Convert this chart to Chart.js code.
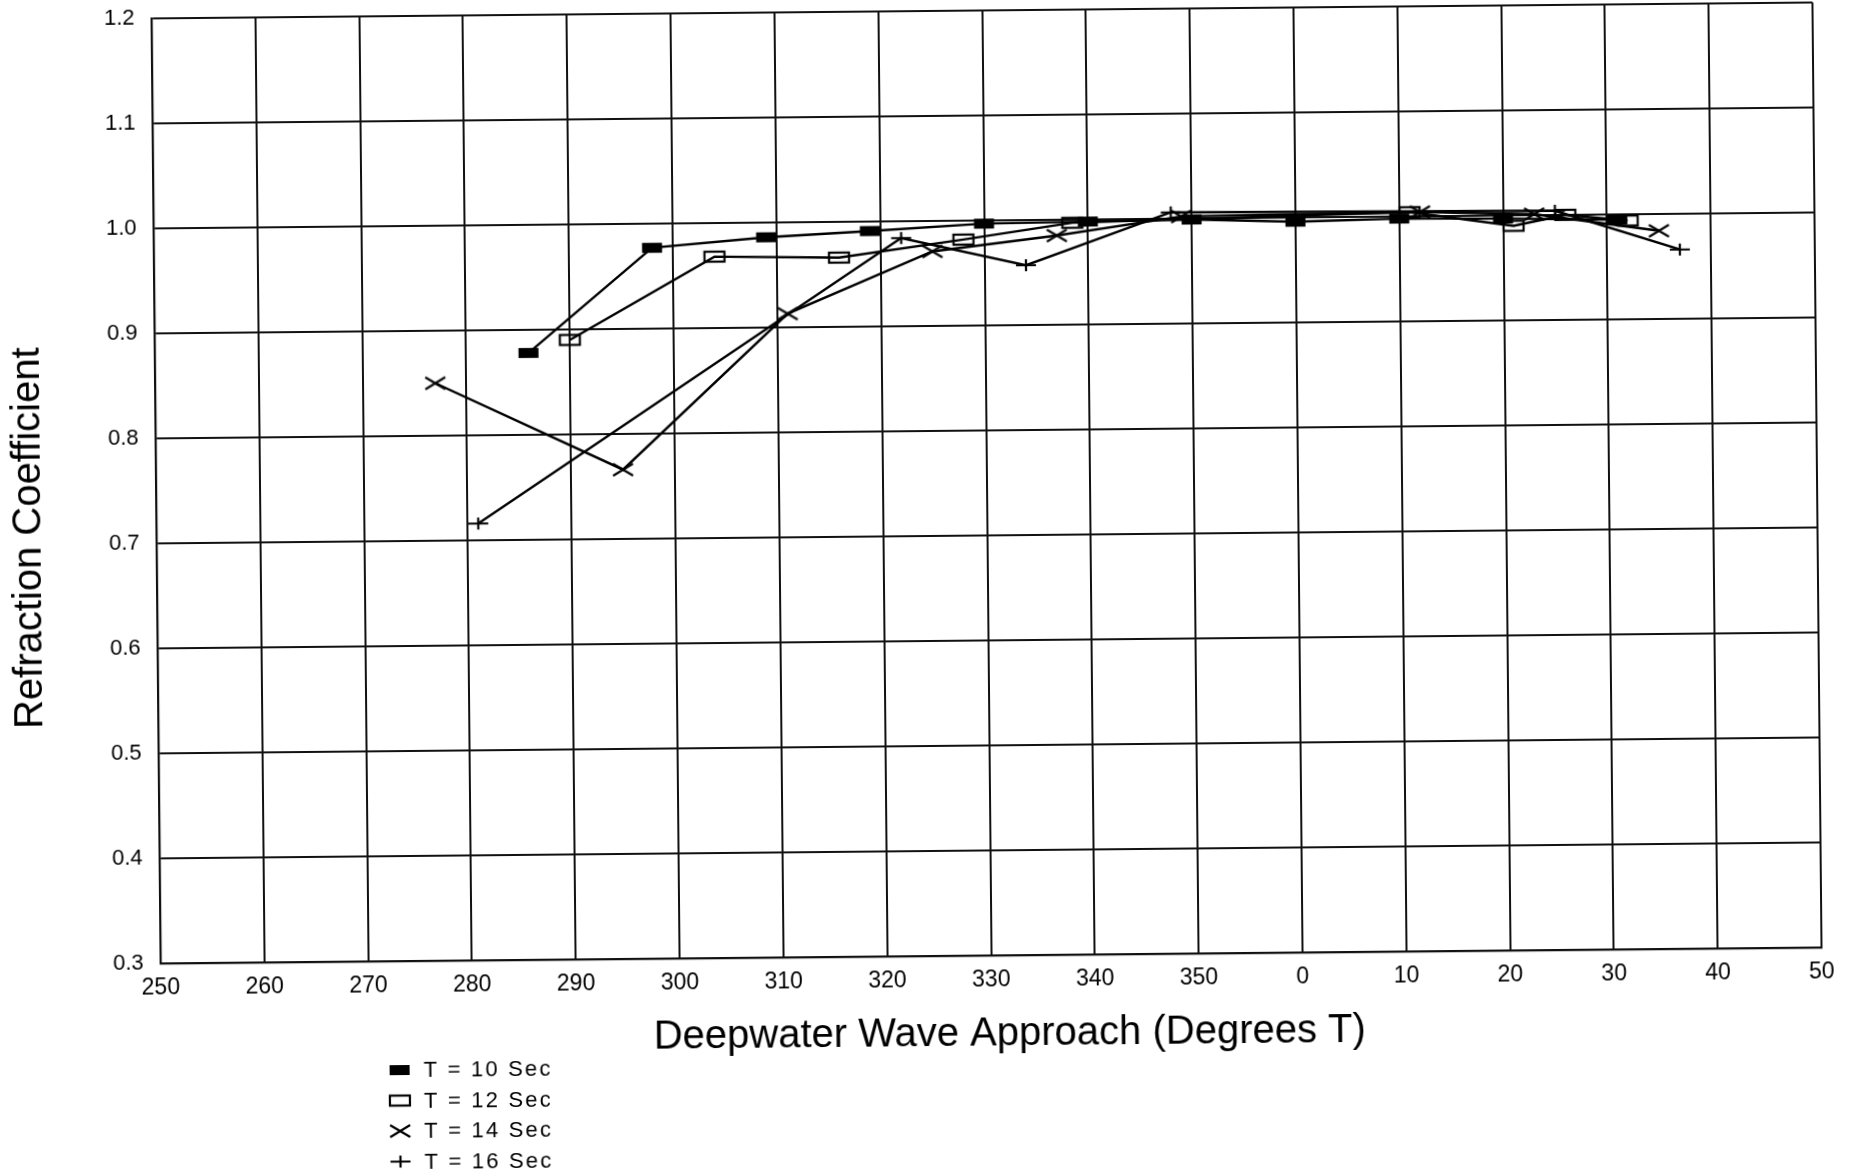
<!DOCTYPE html>
<html>
<head>
<meta charset="utf-8">
<title>Refraction Coefficient</title>
<script src="https://cdn.jsdelivr.net/npm/chart.js@4.4.1/dist/chart.umd.min.js"></script>
<style>
  html, body { margin: 0; padding: 0; background: #fff; overflow: hidden; }
  /* скан слегка повернут */
  #chart { display: block; transform: rotate(-0.55deg); }
</style>
</head>
<body>
<canvas id="chart" width="1859" height="1172"></canvas>
<script>
// Направление подхода волны (град. T) и коэффициент рефракции для каждого периода
const dirT10 = [286, 298, 309, 319, 330, 340, 350, 0, 10, 20, 31];
const krT10  = [0.878, 0.977, 0.986, 0.991, 0.997, 0.998, 0.999, 0.996, 0.998, 0.997, 0.995];

const dirT12 = [290, 304, 316, 328, 338.5, 11, 21, 26, 32];
const krT12  = [0.890, 0.968, 0.966, 0.982, 0.997, 1.004, 0.990, 1.000, 0.994];

const dirT14 = [277, 295, 311, 325, 337, 349, 12, 23, 35];
const krT14  = [0.850, 0.766, 0.913, 0.971, 0.985, 1.002, 1.004, 1.001, 0.984];

const dirT16 = [281, 322, 334, 348, 25, 37];
const krT16  = [0.716, 0.984, 0.957, 1.006, 1.004, 0.966];

const seriesLabels = ['T = 10 Sec', 'T = 12 Sec', 'T = 14 Sec', 'T = 16 Sec'];

const xTitle = 'Deepwater Wave Approach (Degrees T)';
const yTitle = 'Refraction Coefficient';

// ось X идет от 250 через 360 (=0) до 50
const X_MIN = 250, X_MAX = 410, X_STEP = 10;
const Y_MIN = 0.3, Y_MAX = 1.2, Y_STEP = 0.1;

const FONT = '"Liberation Sans", Arial, Helvetica, sans-serif';

function unwrap(d) {
  return d < X_MIN ? d + 360 : d;
}

function toPoints(dirs, vals) {
  return dirs.map((d, i) => ({ x: unwrap(d), y: vals[i] }));
}

// маркеры как на исходном графике
function makeMarker(kind) {
  const c = document.createElement('canvas');
  c.width = 26;
  c.height = 16;
  const g = c.getContext('2d');
  g.strokeStyle = '#000';
  g.fillStyle = '#000';
  g.lineWidth = 2.2;
  if (kind === 'filled') {
    g.fillRect(3, 3, 20, 10);
  } else if (kind === 'open') {
    g.strokeRect(3, 3, 20, 10);
  } else if (kind === 'x') {
    g.beginPath();
    g.moveTo(3, 2); g.lineTo(23, 14);
    g.moveTo(3, 14); g.lineTo(23, 2);
    g.stroke();
  } else if (kind === 'plus') {
    g.beginPath();
    g.moveTo(3, 8); g.lineTo(23, 8);
    g.moveTo(13, 2); g.lineTo(13, 14);
    g.stroke();
  }
  return c;
}

const markers = [makeMarker('filled'), makeMarker('open'), makeMarker('x'), makeMarker('plus')];
const seriesData = [
  toPoints(dirT10, krT10),
  toPoints(dirT12, krT12),
  toPoints(dirT14, krT14),
  toPoints(dirT16, krT16)
];

// подписи осей и легенда рисуются отдельно, как на скане
const scanTextPlugin = {
  id: 'scanText',
  afterDraw(chart) {
    const ctx = chart.ctx;
    const area = chart.chartArea;
    ctx.save();
    ctx.fillStyle = '#000';

    // заголовок оси X
    ctx.font = '40px ' + FONT;
    ctx.textAlign = 'center';
    ctx.textBaseline = 'middle';
    ctx.fillText(xTitle, (area.left + area.right) / 2 + 18, area.bottom + 79);

    // заголовок оси Y
    ctx.save();
    ctx.translate(30, (area.top + area.bottom) / 2 + 46);
    ctx.rotate(-Math.PI / 2);
    ctx.fillText(yTitle, 0, 0);
    ctx.restore();

    // легенда
    ctx.font = '22px ' + FONT;
    ctx.letterSpacing = '2.2px';
    ctx.textAlign = 'left';
    chart.data.datasets.forEach((ds, i) => {
      const y = area.bottom + 109 + i * 30.5;
      const img = ds.pointStyle;
      ctx.drawImage(img, 395 - img.width / 2, y - img.height / 2);
      ctx.fillText(ds.label, 419, y + 1);
    });
    ctx.restore();
  }
};

const ctx = document.getElementById('chart').getContext('2d');

new Chart(ctx, {
  type: 'line',
  data: {
    datasets: seriesData.map((pts, i) => ({
      label: seriesLabels[i],
      data: pts,
      borderColor: '#000',
      backgroundColor: '#000',
      borderWidth: 2.4,
      tension: 0,
      fill: false,
      pointStyle: markers[i],
      pointRadius: 8,
      pointHoverRadius: 8
    }))
  },
  options: {
    responsive: false,
    animation: false,
    devicePixelRatio: 1,
    layout: {
      padding: { left: 0, top: 11, right: 41, bottom: 116 }
    },
    plugins: {
      legend: { display: false },
      tooltip: { enabled: false }
    },
    scales: {
      x: {
        type: 'linear',
        min: X_MIN,
        max: X_MAX,
        afterFit(scale) { scale.height = 100; },
        ticks: {
          stepSize: X_STEP,
          padding: 11,
          color: '#000',
          font: { family: FONT, size: 23 },
          maxRotation: 0,
          autoSkip: false,
          callback: v => String(v >= 360 ? v - 360 : v)
        },
        grid: { color: '#111', lineWidth: 2, drawTicks: false },
        border: { color: '#111', width: 2.2 }
      },
      y: {
        min: Y_MIN,
        max: Y_MAX,
        afterFit(scale) {
          scale.width = 157;
          // не даем подписям сдвигать область графика
          scale.paddingTop = 0;
          scale.paddingBottom = 0;
        },
        ticks: {
          stepSize: Y_STEP,
          padding: 17,
          color: '#000',
          font: { family: FONT, size: 22, lineHeight: 1 },
          callback: v => Number(v).toFixed(1)
        },
        grid: { color: '#111', lineWidth: 2, drawTicks: false },
        border: { color: '#111', width: 2.2 }
      }
    }
  },
  plugins: [scanTextPlugin]
});
</script>
</body>
</html>
